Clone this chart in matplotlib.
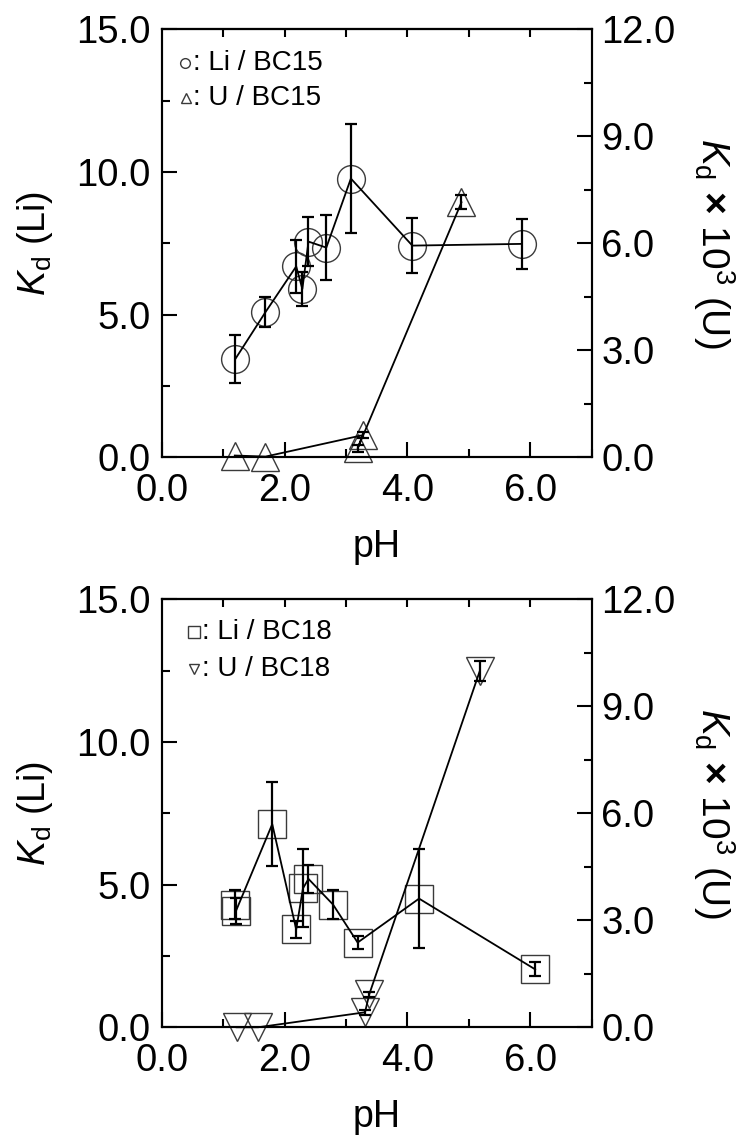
import numpy as np
import matplotlib
matplotlib.use("Agg")
import matplotlib.pyplot as plt
from matplotlib.ticker import MultipleLocator, FormatStrFormatter

plt.rcParams['font.family'] = ['Liberation Sans', 'DejaVu Sans']
plt.rcParams['mathtext.fontset'] = 'custom'
plt.rcParams['mathtext.rm'] = 'Liberation Sans'
plt.rcParams['mathtext.it'] = 'Liberation Sans:italic'
plt.rcParams['mathtext.bf'] = 'Liberation Sans:bold'

# ---- Top panel (BC15) ----
ph_li15 = [1.20, 1.69, 2.19, 2.29, 2.39, 2.68, 3.08, 4.08, 5.86]
kd_li15 = [3.45, 5.09, 6.69, 5.90, 7.56, 7.35, 9.77, 7.42, 7.48]
err_li15 = [0.84, 0.53, 0.94, 0.60, 0.86, 1.15, 1.90, 0.95, 0.87]

ph_u15 = [1.19, 1.69, 3.27, 3.19, 4.88]
kd_u15 = [0.05, 0.02, 0.62, 0.25, 7.15]
err_u15 = [0.0, 0.0, 0.08, 0.10, 0.20]

# ---- Bottom panel (BC18) ----
ph_li18 = [1.20, 1.21, 1.80, 2.19, 2.30, 2.39, 2.79, 3.19, 4.19, 6.08]
kd_li18 = [4.30, 4.08, 7.12, 3.43, 4.87, 5.20, 4.30, 2.97, 4.51, 2.03]
err_li18 = [0.52, 0.45, 1.47, 0.29, 1.37, 0.49, 0.50, 0.23, 1.74, 0.25]

ph_u18 = [1.22, 1.57, 3.31, 3.38, 5.18]
kd_u18 = [0.00, 0.00, 0.42, 0.93, 10.00]
err_u18 = [0.0, 0.0, 0.07, 0.07, 0.28]

left_label = r'$K_\mathrm{d}$ (Li)'
right_label = r'$K_\mathrm{d}$ $\mathbf{\times}$ 10$^3$ (U)'

TICK_FS = 27.5
LAB_FS = 27
RLAB_FS = 28
LEG_FS = 20
MEC = '#3a3a3a'

fig = plt.figure(figsize=(7.44, 11.37), dpi=100)

def style_axes(ax, ax2):
    ax.set_xlim(0, 7)
    ax.set_ylim(0, 15)
    ax2.set_ylim(0, 12)
    ax.xaxis.set_major_locator(MultipleLocator(2))
    ax.xaxis.set_minor_locator(MultipleLocator(1))
    ax.yaxis.set_major_locator(MultipleLocator(5))
    ax.yaxis.set_minor_locator(MultipleLocator(2.5))
    ax2.yaxis.set_major_locator(MultipleLocator(3))
    ax2.yaxis.set_minor_locator(MultipleLocator(1.5))
    fmt = FormatStrFormatter('%.1f')
    ax.xaxis.set_major_formatter(fmt)
    ax.yaxis.set_major_formatter(fmt)
    ax2.yaxis.set_major_formatter(fmt)
    ax.tick_params(which='both', direction='in', left=True, right=False,
                   top=False, bottom=True, labelsize=TICK_FS, width=1.5)
    ax.tick_params(which='major', length=11)
    ax.tick_params(which='minor', length=6)
    ax.tick_params(axis='y', pad=8)
    ax.tick_params(axis='x', pad=11)
    ax2.tick_params(which='both', direction='in', left=False, right=True,
                    labelsize=TICK_FS, width=1.5, pad=7)
    ax2.tick_params(which='major', length=11)
    ax2.tick_params(which='minor', length=6)
    sec = ax.secondary_xaxis('top')
    sec.set_xticks([1, 2, 3, 4, 5, 6])
    sec.tick_params(direction='in', length=6, width=1.5, labeltop=False)
    sec.spines['top'].set_linewidth(1.5)
    for a in (ax, ax2):
        for s in a.spines.values():
            s.set_linewidth(1.5)
    ax.set_xlabel('pH', fontsize=LAB_FS, labelpad=15)
    ax.set_ylabel(left_label, fontsize=LAB_FS, labelpad=15)
    ax2.set_ylabel(right_label, fontsize=RLAB_FS, rotation=270, labelpad=44)


def draw_series(ax, x, y, e, marker, clip=True):
    x = np.asarray(x); y = np.asarray(y); e = np.asarray(e)
    ax.plot(x, y, ls='none', marker=marker, ms=20, mfc='none', mec=MEC,
            mew=1.0, zorder=2, clip_on=clip)
    m = e > 0
    ax.errorbar(x[m], y[m], yerr=e[m], fmt='none', ecolor='black',
                elinewidth=1.6, capsize=4, capthick=1.6, zorder=3)
    ax.plot(x, y, '-', color='black', lw=1.3, zorder=4, clip_on=clip)


# Top panel
ax_t = fig.add_axes([0.2173, 0.5978, 0.578, 0.3764])
ax_t2 = ax_t.twinx()
style_axes(ax_t, ax_t2)
draw_series(ax_t, ph_li15, kd_li15, err_li15, 'o')
draw_series(ax_t2, ph_u15, kd_u15, err_u15, '^', clip=False)
ax_t.plot([0.054], [0.921], transform=ax_t.transAxes, marker='o', ms=7,
          mfc='none', mec=MEC, mew=1.0, ls='none')
ax_t.text(0.072, 0.921, ': Li / BC15', transform=ax_t.transAxes,
          fontsize=LEG_FS, va='center', ha='left')
ax_t.plot([0.056], [0.839], transform=ax_t.transAxes, marker='^', ms=7,
          mfc='none', mec=MEC, mew=1.0, ls='none')
ax_t.text(0.072, 0.839, ': U / BC15', transform=ax_t.transAxes,
          fontsize=LEG_FS, va='center', ha='left')

# Bottom panel
ax_b = fig.add_axes([0.2173, 0.0965, 0.578, 0.3764])
ax_b2 = ax_b.twinx()
style_axes(ax_b, ax_b2)
draw_series(ax_b, ph_li18, kd_li18, err_li18, 's')
draw_series(ax_b2, ph_u18, kd_u18, err_u18, 'v', clip=False)
ax_b.plot([0.075], [0.924], transform=ax_b.transAxes, marker='s', ms=8,
          mfc='none', mec=MEC, mew=1.0, ls='none')
ax_b.text(0.094, 0.924, ': Li / BC18', transform=ax_b.transAxes,
          fontsize=LEG_FS, va='center', ha='left')
ax_b.plot([0.076], [0.836], transform=ax_b.transAxes, marker='v', ms=7,
          mfc='none', mec=MEC, mew=1.0, ls='none')
ax_b.text(0.094, 0.836, ': U / BC18', transform=ax_b.transAxes,
          fontsize=LEG_FS, va='center', ha='left')

fig.savefig('out.png', dpi=100)
